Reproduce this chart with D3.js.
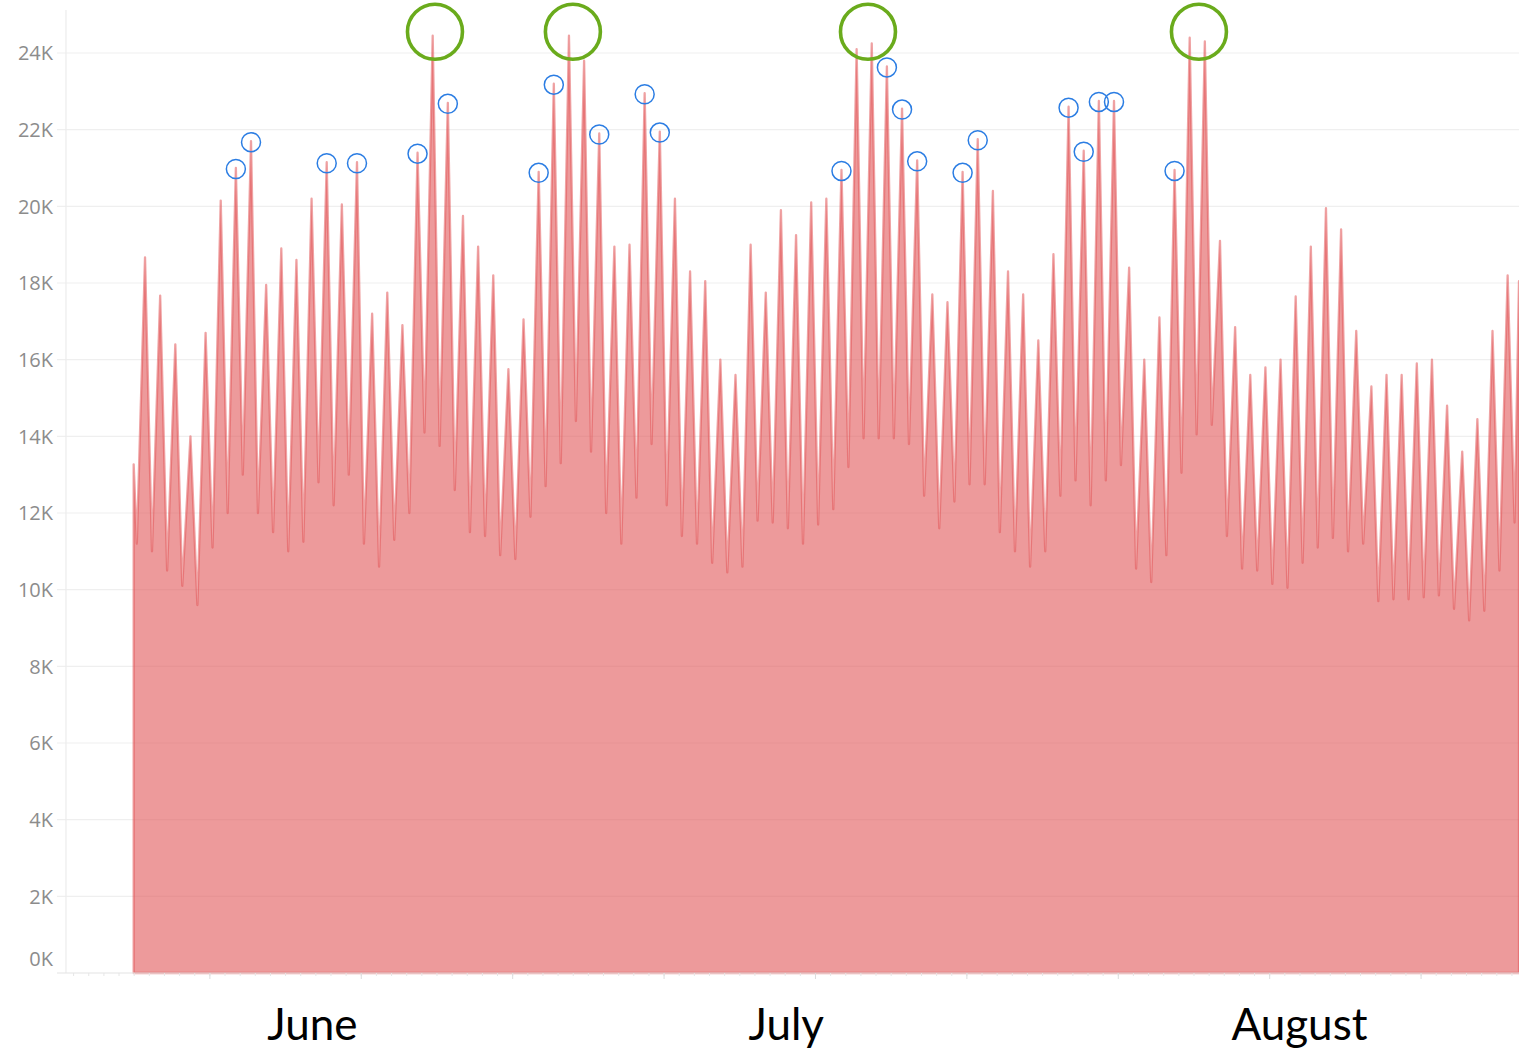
<!DOCTYPE html>
<html>
<head>
<meta charset="utf-8">
<script src="https://cdn.jsdelivr.net/npm/d3@7"></script>
<style>
  body { margin: 0; background: #fff; }
</style>
</head>
<body>
<div id="my_dataviz"></div>
<script>
// daily highs (evening) and lows (early morning), in thousands
var peaks = [
  18.67, 17.67, 16.4, 14.0, 16.7, 20.15, 21.0, 21.7, 17.95, 18.9,
  18.6, 20.2, 21.15, 20.05, 21.15, 17.2, 17.75, 16.9, 21.4, 24.45,
  22.7, 19.75, 18.95, 18.2, 15.75, 17.05, 20.9, 23.2, 24.45, 23.8,
  21.9, 18.95, 19.0, 22.95, 21.95, 20.2, 18.3, 18.05, 16.0, 15.6,
  19.0, 17.75, 19.9, 19.25, 20.1, 20.2, 20.95, 24.1, 24.25, 23.65,
  22.55, 21.2, 17.7, 17.5, 20.9, 21.75, 20.4, 18.3, 17.7, 16.5,
  18.75, 22.6, 21.45, 22.75, 22.75, 18.4, 16.0, 17.1, 20.95, 24.4,
  24.3, 19.1, 16.85, 15.6, 15.8, 16.0, 17.65, 18.95, 19.95, 19.4,
  16.75, 15.3, 15.6, 15.6, 15.9, 16.0, 14.8, 13.6, 14.45, 16.75,
  18.2
];
var troughs = [
  11.2, 11.0, 10.5, 10.1, 9.6, 11.1, 12.0, 13.0, 12.0, 11.5,
  11.0, 11.25, 12.8, 12.2, 13.0, 11.2, 10.6, 11.3, 12.0, 14.1,
  13.75, 12.6, 11.5, 11.4, 10.9, 10.8, 11.9, 12.7, 13.3, 14.4,
  13.6, 12.0, 11.2, 12.4, 13.8, 12.2, 11.4, 11.2, 10.7, 10.45,
  10.6, 11.8, 11.75, 11.6, 11.2, 11.7, 12.1, 13.2, 13.95, 13.95,
  13.95, 13.8, 12.45, 11.6, 12.3, 12.75, 12.75, 11.5, 11.0, 10.6,
  11.0, 12.45, 12.85, 12.2, 12.85, 13.25, 10.55, 10.2, 10.9, 13.05,
  14.05, 14.3, 11.4, 10.55, 10.5, 10.15, 10.05, 10.7, 11.1, 11.35,
  11.0, 11.2, 9.7, 9.75, 9.75, 9.8, 9.85, 9.5, 9.2, 9.45,
  10.5, 11.75
];
var startValue = 13.27;
var endValue = 18.05;
var peakHour = 18, troughHour = 5;
var lastDay = 91.5;

var yTicks = [0, 2, 4, 6, 8, 10, 12, 14, 16, 18, 20, 22, 24];
var majorTickDays = [5, 15, 25, 35, 45, 55, 65, 75, 85];
var months = ["June", "July", "August"];
var monthDays = [11.8, 43.1, 77.0];

// highlighted peaks (1-based day index)
var blueMarks = [7, 8, 13, 15, 19, 21, 27, 28, 31, 34, 35, 47, 50, 51, 52, 55, 56, 62, 63, 64, 65, 69];
// big circles sit over the record days (day index, between the two days when two are circled)
var greenMarks = [20.15, 29.26, 48.75, 70.61];

var width = 1519, height = 1051;
var plotLeft = 66, plotRight = 1519, plotTop = 10;

var svg = d3.select("#my_dataviz")
  .append("svg")
  .attr("width", width)
  .attr("height", height);

var x = d3.scaleLinear()
  .domain([-4.47, lastDay])
  .range([plotLeft, plotRight]);

var y = d3.scaleLinear()
  .domain([0, 24])
  .range([973, 53]);

// build the line from the daily lows / highs
var points = [{day: 0, value: startValue}];
troughs.forEach(function(v, i) {
  points.push({day: i + troughHour / 24, value: v});
  if (i < peaks.length) points.push({day: i + peakHour / 24, value: peaks[i]});
});
points.push({day: lastDay, value: endValue});

// gridlines
svg.selectAll("grid")
  .data(yTicks.slice(1))
  .join("line")
  .attr("x1", plotLeft - 9)
  .attr("x2", plotRight)
  .attr("y1", function(d) { return y(d); })
  .attr("y2", function(d) { return y(d); })
  .style("stroke", "#efefef")
  .style("stroke-width", 1.2);

// y axis line
svg.append("line")
  .attr("x1", plotLeft).attr("x2", plotLeft)
  .attr("y1", plotTop).attr("y2", y(0))
  .style("stroke", "#ececec")
  .style("stroke-width", 1.2);

// y labels
svg.selectAll("ylab")
  .data(yTicks)
  .join("text")
  .attr("x", plotLeft - 13)
  .attr("y", function(d) { return d == 0 ? y(d) - 14 : y(d); })
  .attr("dy", "0.36em")
  .attr("text-anchor", "end")
  .style("font-family", "'Open Sans', sans-serif")
  .style("font-size", "20px")
  .style("fill", "#8c8c8c")
  .text(function(d) { return d + "K"; });

// area
var area = d3.area()
  .x(function(d) { return x(d.day); })
  .y0(y(0))
  .y1(function(d) { return y(d.value); });

svg.append("path")
  .datum(points)
  .attr("d", area)
  .style("fill", "#e15759")
  .style("fill-opacity", 0.6)
  .style("stroke", "#e15759")
  .style("stroke-opacity", 0.55)
  .style("stroke-width", 2.3)
  .style("stroke-linejoin", "round");

// x axis baseline + ticks
svg.append("line")
  .attr("x1", plotLeft - 9).attr("x2", plotRight)
  .attr("y1", y(0)).attr("y2", y(0))
  .style("stroke", "#e4e4e4")
  .style("stroke-width", 1.2);

svg.append("g")
  .attr("transform", "translate(0," + y(0) + ")")
  .call(d3.axisBottom(x).tickValues(d3.range(-4, 92)).tickSize(3).tickFormat(""))
  .call(function(g) { g.select(".domain").remove(); })
  .selectAll("line").style("stroke", "#e6e6e6");

svg.append("g")
  .attr("transform", "translate(0," + y(0) + ")")
  .call(d3.axisBottom(x).tickValues(majorTickDays).tickSize(6).tickFormat(""))
  .call(function(g) { g.select(".domain").remove(); })
  .selectAll("line").style("stroke", "#dcdcdc");

// month labels
svg.selectAll("months")
  .data(months)
  .join("text")
  .attr("x", function(d, i) { return x(monthDays[i]); })
  .attr("y", 1040)
  .attr("text-anchor", "middle")
  .style("font-family", "Lato, 'Open Sans', sans-serif")
  .style("font-size", "44px")
  .style("fill", "#000")
  .text(function(d) { return d; });

// blue markers on high days
svg.selectAll("bluemark")
  .data(blueMarks)
  .join("circle")
  .attr("cx", function(d) { return x(d - 1 + peakHour / 24); })
  .attr("cy", function(d) { return y(peaks[d - 1]) + 1; })
  .attr("r", 9.5)
  .style("fill", "none")
  .style("stroke", "#2b7de3")
  .style("stroke-width", 1.5);

// green markers on the record days
var topY = y(d3.max(peaks)) - 4;
svg.selectAll("greenmark")
  .data(greenMarks)
  .join("circle")
  .attr("cx", function(d) { return x(d - 1 + peakHour / 24); })
  .attr("cy", topY)
  .attr("r", 27.5)
  .style("fill", "none")
  .style("stroke", "#6aab1c")
  .style("stroke-width", 3.6);
</script>
</body>
</html>
